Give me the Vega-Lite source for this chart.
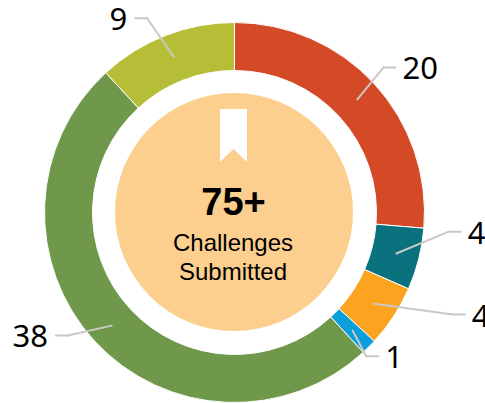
{
"$schema":"https://vega.github.io/schema/vega-lite/v6.json",
"width":380,"height":380,
"autosize":{"type":"none"},
"padding":{"left":44.5,"top":22.5,"right":60.5,"bottom":0.5},
"background":"white",
"config":{"view":{"stroke":null}},
"data":{"values":[
{"idx":0,"segment":"A","value":20},
{"idx":1,"segment":"B","value":4},
{"idx":2,"segment":"C","value":4},
{"idx":3,"segment":"D","value":1},
{"idx":4,"segment":"E","value":38},
{"idx":5,"segment":"F","value":9}]},
"transform":[
{"window":[{"op":"sum","field":"value","as":"cum"}],"sort":[{"field":"idx","order":"ascending"}]},
{"joinaggregate":[{"op":"sum","field":"value","as":"total"}]},
{"calculate":"(datum.cum-datum.value/2)/datum.total*360","as":"mid"},
{"calculate":"167*sin(datum.mid*PI/180)","as":"sx"},
{"calculate":"167*cos(datum.mid*PI/180)","as":"sy"},
{"calculate":"(datum.mid+[-1.6,-9.1,-8.1,2.5,6.2,-2.9][datum.idx])*PI/180","as":"elbowAngle"},
{"calculate":"[208,215,241,195,207,213][datum.idx]","as":"elbowRadius"},
{"calculate":"datum.elbowRadius*sin(datum.elbowAngle)","as":"ex"},
{"calculate":"datum.elbowRadius*cos(datum.elbowAngle)","as":"ey"},
{"calculate":"datum.ex+(datum.ex>0?12:-12)","as":"tx"}
],
"layer":[
{"mark":{"type":"arc","outerRadius":190,"innerRadius":142,"stroke":"white","strokeWidth":1},
"encoding":{
"theta":{"field":"value","type":"quantitative","stack":true},
"order":{"field":"idx","type":"quantitative"},
"color":{"field":"segment","type":"nominal","legend":null,"scale":{"domain":["A","B","C","D","E","F"],"range":["#D44A26","#0A727F","#FCA41F","#0A9FDB","#6F984B","#B5BE36"]}}}},
{"mark":{"type":"rule","color":"#CBC8C4","strokeWidth":2,"strokeCap":"round"},
"encoding":{
"x":{"field":"sx","type":"quantitative","axis":null,"scale":{"domain":[-190,190]}},
"y":{"field":"sy","type":"quantitative","axis":null,"scale":{"domain":[-190,190]}},
"x2":{"field":"ex"},"y2":{"field":"ey"}}},
{"mark":{"type":"rule","color":"#CBC8C4","strokeWidth":2,"strokeCap":"round"},
"encoding":{
"x":{"field":"ex","type":"quantitative","axis":null,"scale":{"domain":[-190,190]}},
"y":{"field":"ey","type":"quantitative","axis":null,"scale":{"domain":[-190,190]}},
"x2":{"field":"tx"}}},
{"transform":[{"filter":"datum.ex>0"}],
"mark":{"type":"text","align":"left","baseline":"middle","dx":7,"dy":3,"font":"Noto Sans","fontSize":31,"color":"#000000"},
"encoding":{
"x":{"field":"tx","type":"quantitative","axis":null,"scale":{"domain":[-190,190]}},
"y":{"field":"ey","type":"quantitative","axis":null,"scale":{"domain":[-190,190]}},
"text":{"field":"value","type":"quantitative"}}},
{"transform":[{"filter":"datum.ex<0"}],
"mark":{"type":"text","align":"right","baseline":"middle","dx":-8,"dy":3,"font":"Noto Sans","fontSize":31,"color":"#000000"},
"encoding":{
"x":{"field":"tx","type":"quantitative","axis":null,"scale":{"domain":[-190,190]}},
"y":{"field":"ey","type":"quantitative","axis":null,"scale":{"domain":[-190,190]}},
"text":{"field":"value","type":"quantitative"}}},
{"data":{"values":[{"headline":"75+","line1":"Challenges","line2":"Submitted"}]},
"mark":{"type":"point","filled":true,"color":"#FCCF8E","opacity":1,"shape":"circle","size":56644},
"encoding":{"x":{"datum":-0.5,"type":"quantitative","axis":null,"scale":{"domain":[-190,190]}},"y":{"datum":0.5,"type":"quantitative","axis":null,"scale":{"domain":[-190,190]}}}},
{"data":{"values":[{"headline":"75+","line1":"Challenges","line2":"Submitted"}]},
"mark":{"type":"point","filled":true,"color":"#FFFFFF","opacity":1,"size":2809,"shape":"M-0.51,-1 L0.51,-1 L0.51,1 L0,0.51 L-0.51,1 Z"},
"encoding":{"x":{"datum":-1,"type":"quantitative","axis":null,"scale":{"domain":[-190,190]}},"y":{"datum":77,"type":"quantitative","axis":null,"scale":{"domain":[-190,190]}}}},
{"data":{"values":[{"headline":"75+","line1":"Challenges","line2":"Submitted"}]},
"mark":{"type":"text","baseline":"alphabetic","align":"center","font":"Liberation Sans","fontWeight":"bold","fontSize":38,"color":"#000000"},
"encoding":{"x":{"datum":-1,"type":"quantitative","axis":null,"scale":{"domain":[-190,190]}},"y":{"datum":-2.5,"type":"quantitative","axis":null,"scale":{"domain":[-190,190]}},"text":{"field":"headline"}}},
{"data":{"values":[{"headline":"75+","line1":"Challenges","line2":"Submitted"}]},
"mark":{"type":"text","baseline":"alphabetic","align":"center","font":"Liberation Sans","fontSize":24,"color":"#000000"},
"encoding":{"x":{"datum":-1.5,"type":"quantitative","axis":null,"scale":{"domain":[-190,190]}},"y":{"datum":-38,"type":"quantitative","axis":null,"scale":{"domain":[-190,190]}},"text":{"field":"line1"}}},
{"data":{"values":[{"headline":"75+","line1":"Challenges","line2":"Submitted"}]},
"mark":{"type":"text","baseline":"alphabetic","align":"center","font":"Liberation Sans","fontSize":24,"color":"#000000"},
"encoding":{"x":{"datum":-1.5,"type":"quantitative","axis":null,"scale":{"domain":[-190,190]}},"y":{"datum":-67,"type":"quantitative","axis":null,"scale":{"domain":[-190,190]}},"text":{"field":"line2"}}}
]
}
